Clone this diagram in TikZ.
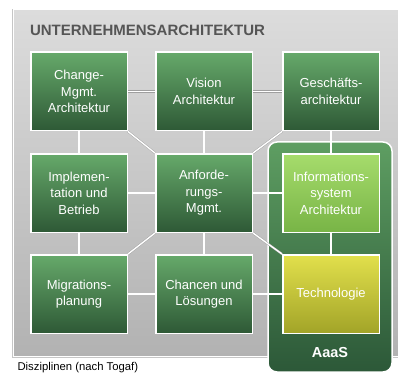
\documentclass[tikz,border=0pt]{standalone}
\usepackage{fontspec}
\setmainfont{Liberation Sans}
\definecolor{greytop}{HTML}{DCDCDC}
\definecolor{greybot}{HTML}{B2B2B2}
\definecolor{boxtop}{HTML}{66A96A}
\definecolor{boxbot}{HTML}{2E5936}
\definecolor{infotop}{HTML}{A6DC6C}
\definecolor{infobot}{HTML}{78B446}
\definecolor{techtop}{HTML}{E2E04C}
\definecolor{techbot}{HTML}{A2A428}
\definecolor{aaastop}{HTML}{5E9E62}
\definecolor{aaasbot}{HTML}{2C5838}
\definecolor{titlegrey}{HTML}{555555}
\tikzset{
  disc/.style={draw=white, line width=1.5pt, top color=boxtop, bottom color=boxbot,
    text=white, align=center, inner sep=0pt, minimum width=96.5pt, minimum height=78.5pt,
    font=\fontsize{13}{16.5}\selectfont},
  link/.style={draw=gray!75, double=white, double distance=1.4pt, line width=0.4pt},
}
\begin{document}
\begin{tikzpicture}[x=1pt,y=-1pt]
    \useasboundingbox (0,0) rectangle (398,374);
    % grey frame
    \fill[gray!45] (12,9) rectangle (398,358);
    \draw[white, line width=1pt, top color=greytop, bottom color=greybot] (13,10) rectangle (399,356.5);
    \node[anchor=west, text=titlegrey, font=\fontsize{15}{18}\bfseries\selectfont] (title) at (26.5,30) {UNTERNEHMENSARCHITEKTUR};

    % AaaS
    \draw[white, line width=1.5pt, rounded corners=9pt, top color=aaastop, bottom color=aaasbot] (268,142) rectangle (392,372);
    \node[text=white, font=\fontsize{14.5}{17}\bfseries\selectfont] (aaas) at (330,352.5) {AaaS};

    \node[disc] (chg) at (79,91.5) {Change-\\Mgmt.\\Architektur};
    \node[disc] (vis) at (204,91.5) {Vision\\Architektur};
    \node[disc] (ges) at (331,91.5) {Geschäfts-\\architektur};
    \node[disc] (impl) at (79,193) {Implemen-\\tation und\\Betrieb};
    \node[disc] (anf) at (204,193) {Anforde-\\rungs-\\Mgmt.};
    \node[disc, top color=infotop, bottom color=infobot] (info) at (331,193) {Informations-\\system\\Architektur};
    \node[disc] (migr) at (79,294) {Migrations-\\planung};
    \node[disc] (chan) at (204,294) {Chancen und\\Lösungen};
    \node[disc, top color=techtop, bottom color=techbot] (tech) at (331,294) {Technologie};

    \draw[link] (chg) -- (vis);
    \draw[link] (vis) -- (ges);
    \draw[link] (impl) -- (anf);
    \draw[link] (anf) -- (info);
    \draw[link] (migr) -- (chan);
    \draw[link] (chan) -- (tech);
    \draw[link] (chg) -- (impl);
    \draw[link] (impl) -- (migr);
    \draw[link] (vis) -- (anf);
    \draw[link] (anf) -- (chan);
    \draw[link] (ges) -- (info);
    \draw[link] (info) -- (tech);
    \draw[link] (chg.south east) -- (anf.north west);
    \draw[link] (ges.south west) -- (anf.north east);
    \draw[link] (migr.north east) -- (anf.south west);
    \draw[link] (tech.north west) -- (anf.south east);

    \node[anchor=west, font=\fontsize{11.3}{13}\selectfont] (caption) at (14,368) {Disziplinen (nach Togaf)};
\end{tikzpicture}
\end{document}
